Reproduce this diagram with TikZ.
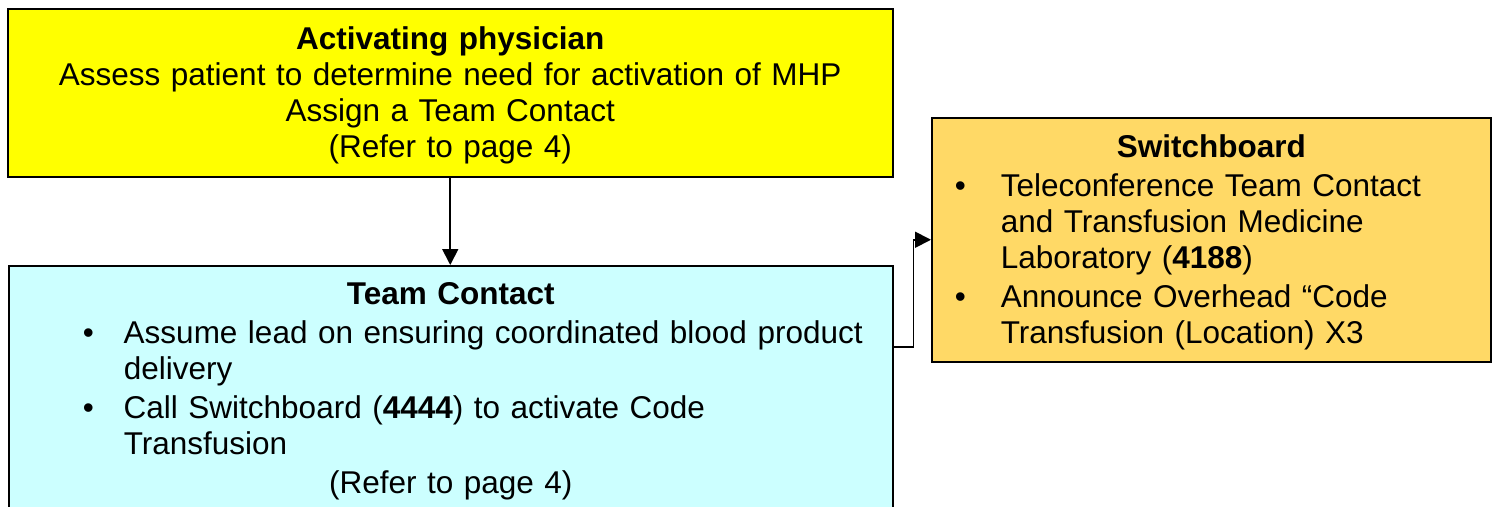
\documentclass[tikz,border=0pt]{standalone}
\usepackage{fontspec}
\setmainfont{Liberation Sans}
\usepackage{tikz}
\usetikzlibrary{calc}
\usetikzlibrary{arrows.meta}
\usetikzlibrary{positioning}
\usepackage{color}
\definecolor{lemon}{RGB}{255, 255, 0}
\definecolor{icecyan}{RGB}{204, 255, 255}
\definecolor{sand}{RGB}{255, 217, 102}
\setlength{\parindent}{0pt}
\newlength{\bhang}
\newcommand{\bitem}[1]{\par\hangindent=\bhang\hangafter=1\noindent\makebox[\bhang][l]{\textbullet}#1\par}

\begin{document}
\begin{tikzpicture}[x=1pt, y=1pt,
        box/.style={draw=black, line width=1.5pt, inner xsep=10pt, anchor=north west,
                    font=\fontsize{31.5}{36}\selectfont\setlength{\parskip}{3pt}},
        link/.style={draw=black, line width=1.8pt, -{Triangle[length=16pt, width=16pt]}}]
            % Frame to ensure alignment:
            \useasboundingbox                                                 (0, 0) rectangle (1496, -506);
            % Activating physician
            \node[box, fill=lemon, text width=865pt, minimum height=168pt, align=center] (phys) at (7, -8)
                 {\rule{0pt}{29pt}\textbf{Activating physician}\\
                  Assess patient to determine need for activation of MHP\\
                  Assign a Team Contact\\
                  (Refer to page 4)};
            % Team Contact
            \node[box, fill=icecyan, text width=864pt, inner ysep=17pt] (tc) at (8, -265)
                 {\centering\textbf{Team Contact}\par
                  \raggedright\leftskip=64pt\setlength{\bhang}{41pt}%
                  \bitem{Assume lead on ensuring coordinated blood product\newline delivery}%
                  \bitem{Call Switchboard (\textbf{4444}) to activate Code\newline Transfusion}%
                  \centering (Refer to page 4)\par};
            % Switchboard
            \node[box, fill=sand, text width=539pt, minimum height=244pt] (sw) at (931, -117)
                 {\centering\rule{0pt}{29pt}\textbf{Switchboard}\par
                  \raggedright\leftskip=13pt\setlength{\bhang}{46pt}%
                  \bitem{Teleconference Team Contact\newline and Transfusion Medicine\newline Laboratory (\textbf{4188})}%
                  \bitem{Announce Overhead “Code\newline Transfusion (Location) X3}};
            % Connectors
            \draw[link] (phys.south) -- (phys.south |- tc.north);
            \draw[link] ($(tc.north east)+(0,-82)$) -- ++(20,0) |- (sw.west);
        \end{tikzpicture}
\end{document}
